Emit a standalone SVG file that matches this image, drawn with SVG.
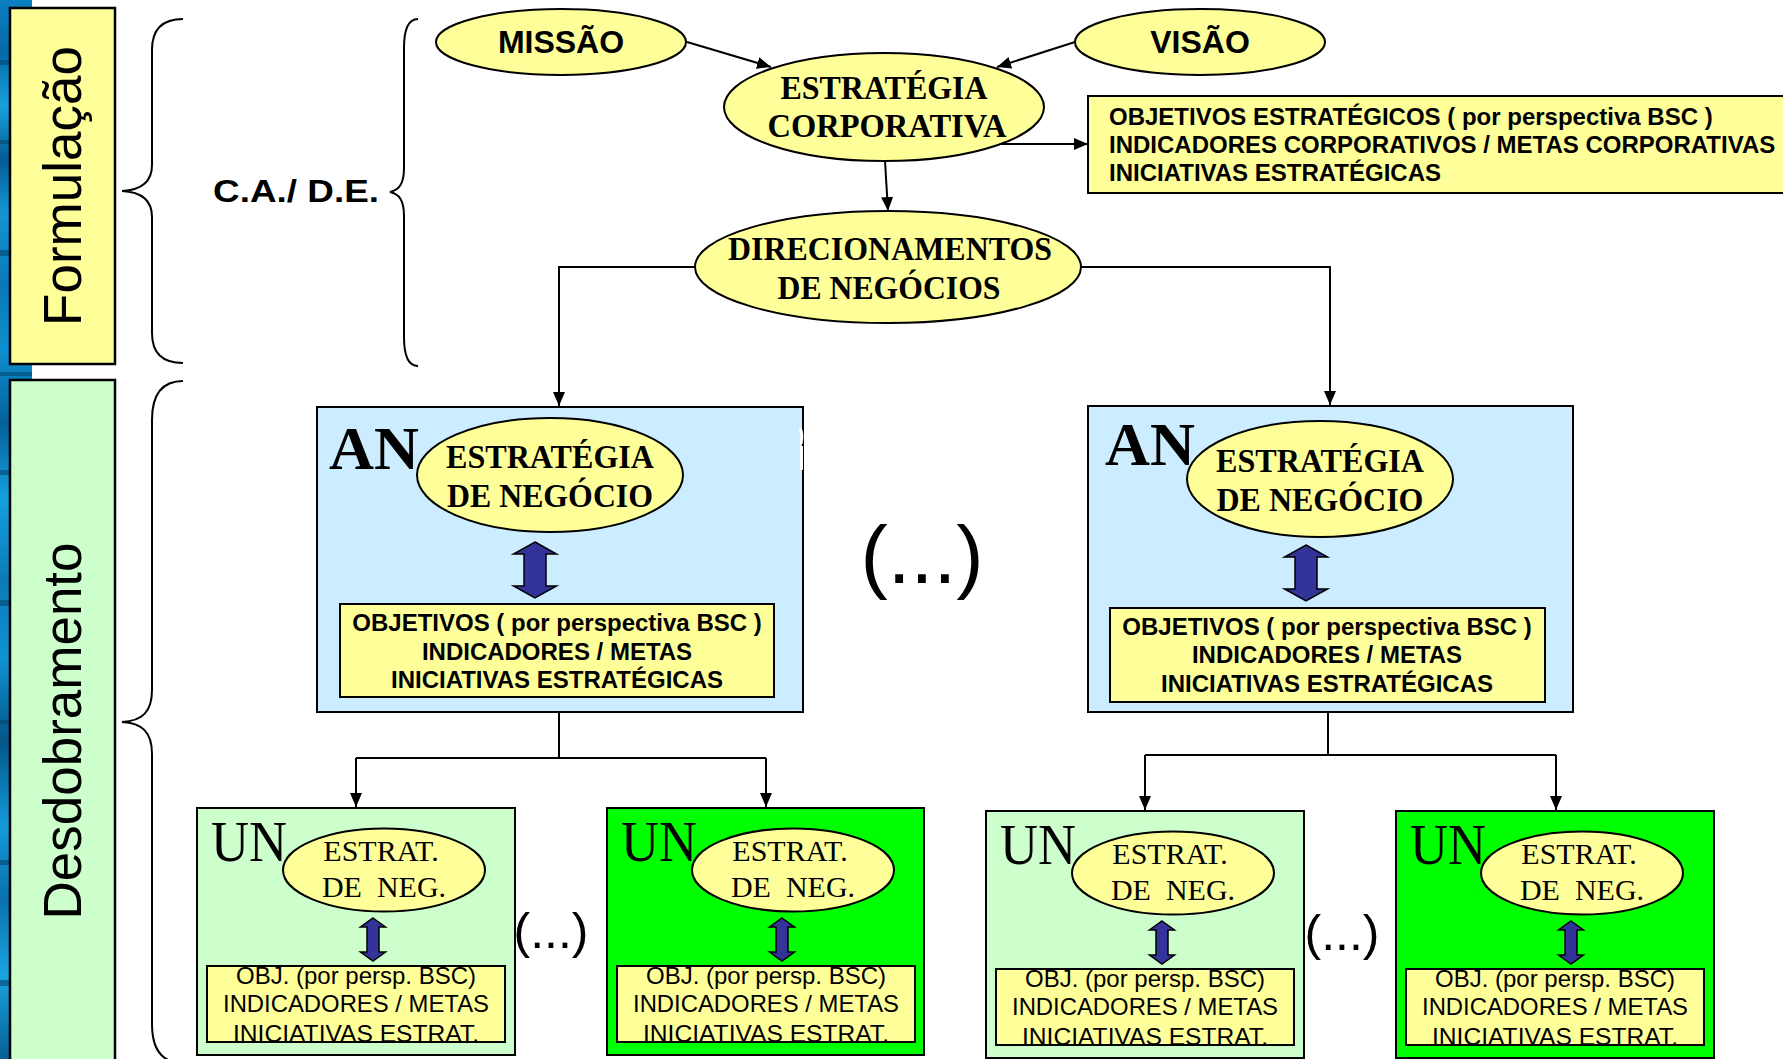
<svg xmlns="http://www.w3.org/2000/svg" width="1783" height="1059" viewBox="0 0 1783 1059">
  <defs>
    <linearGradient id="strip" x1="0" y1="0" x2="0" y2="1">
      <stop offset="0" stop-color="#0b7fc0"/>
      <stop offset="0.05" stop-color="#066aa6"/>
      <stop offset="0.1" stop-color="#18a2dc"/>
      <stop offset="0.15" stop-color="#045b92"/>
      <stop offset="0.2" stop-color="#1495d2"/>
      <stop offset="0.27" stop-color="#0a78b6"/>
      <stop offset="0.33" stop-color="#0d8fcf"/>
      <stop offset="0.4" stop-color="#05619a"/>
      <stop offset="0.47" stop-color="#14a0dc"/>
      <stop offset="0.55" stop-color="#0b7ab8"/>
      <stop offset="0.62" stop-color="#0f93d3"/>
      <stop offset="0.7" stop-color="#045688"/>
      <stop offset="0.78" stop-color="#139bd8"/>
      <stop offset="0.85" stop-color="#0a70ad"/>
      <stop offset="0.92" stop-color="#1aa5df"/>
      <stop offset="1" stop-color="#075f95"/>
    </linearGradient>
    <marker id="arr" markerUnits="userSpaceOnUse" markerWidth="14" markerHeight="12" refX="14" refY="6" orient="auto">
      <path d="M0,0 L14,6 L0,12 z" fill="#000"/>
    </marker>
    <!-- two-headed block arrows -->
    <path id="dbl" d="M0,0 L21.5,12 L11,12 L11,44 L21.5,44 L0,56 L-21.5,44 L-11,44 L-11,12 L-21.5,12 Z"/>
    <path id="dbl-s" d="M0,0 L12.5,9 L6,9 L6,34 L12.5,34 L0,43 L-12.5,34 L-6,34 L-6,9 L-12.5,9 Z"/>
  </defs>
  <style>
    .sans { font-family: "Liberation Sans", Arial, sans-serif; }
    .serif { font-family: "Liberation Serif", "Times New Roman", serif; }
    .b { font-weight: bold; }
    .mid { text-anchor: middle; }
    .yel { fill: #FFFF99; stroke: #000; stroke-width: 2; }
    .an { fill: #CCECFF; stroke: #000; stroke-width: 2; }
    .unl { fill: #CCFFCC; stroke: #000; stroke-width: 2; }
    .und { fill: #00FF00; stroke: #000; stroke-width: 2; }
    .dbl { fill: #333399; stroke: #000; stroke-width: 1.5; }
    .conn { fill: none; stroke: #000; stroke-width: 2; }
    .brace { fill: none; stroke: #000; stroke-width: 2; }
    .big { font-size: 34px; }
    .obj { font-size: 24px; }
    .small { font-size: 24px; }
  </style>

  <rect x="0" y="0" width="1783" height="1059" fill="#fff"/>

  <!-- textured side strip -->
  <rect x="0" y="0" width="32" height="1059" fill="url(#strip)"/>
  <g fill="#03466f" opacity="0.6">
    <rect x="0" y="60" width="32" height="5"/>
    <rect x="0" y="140" width="32" height="4"/>
    <rect x="0" y="250" width="32" height="6"/>
    <rect x="0" y="372" width="32" height="4"/>
    <rect x="0" y="470" width="32" height="5"/>
    <rect x="0" y="600" width="32" height="6"/>
    <rect x="0" y="720" width="32" height="4"/>
    <rect x="0" y="860" width="32" height="5"/>
    <rect x="0" y="980" width="32" height="6"/>
  </g>

  <!-- phase labels -->
  <g id="formulacao">
    <rect x="10" y="8" width="105" height="356" fill="#FFFF99" stroke="#000" stroke-width="2.5"/>
    <text class="sans" font-size="53" text-anchor="middle" transform="translate(81,186) rotate(-90)">Formulação</text>
  </g>
  <g id="desdobramento">
    <rect x="10" y="380" width="105" height="700" fill="#CCFFCC" stroke="#000" stroke-width="2.5"/>
    <text class="sans" font-size="53" text-anchor="middle" transform="translate(81,731) rotate(-90)">Desdobramento</text>
  </g>

  <!-- braces -->
  <g id="braces">
    <path class="brace" d="M183,19 C164,19 152,28 152,50 L152,165 C152,182 142,190 122,191 C142,192 152,200 152,217 L152,333 C152,354 164,363 183,363"/>
    <path class="brace" d="M418,19 C409,19 404,27 404,48 L404,168 C404,184 399,190 390,192 C399,194 404,200 404,216 L404,337 C404,358 409,366 418,366"/>
    <path class="brace" d="M183,381 C164,381 152,392 152,420 L152,690 C152,712 142,721 122,722 C142,723 152,732 152,754 L152,1024 C152,1052 164,1063 183,1063"/>
  </g>

  <g id="ca-de">
    <text class="sans b" x="213" y="202" font-size="32" textLength="166" lengthAdjust="spacingAndGlyphs">C.A./ D.E.</text>
  </g>

  <!-- corporate level -->
  <g id="missao">
    <ellipse class="yel" cx="561" cy="42" rx="125" ry="33"/>
    <text class="sans b mid" x="561" y="53" font-size="32">MISSÃO</text>
  </g>
  <g id="visao">
    <ellipse class="yel" cx="1200" cy="42" rx="125" ry="33"/>
    <text class="sans b mid" x="1200" y="53" font-size="32">VISÃO</text>
  </g>
  <g id="estrategia-corporativa">
    <ellipse class="yel" cx="884" cy="107" rx="160" ry="54"/>
    <text class="serif b mid big" x="884" y="99" textLength="207" lengthAdjust="spacingAndGlyphs">ESTRATÉGIA</text>
    <text class="serif b mid big" x="887" y="137" textLength="239" lengthAdjust="spacingAndGlyphs">CORPORATIVA</text>
  </g>
  <g id="objetivos-corporativos">
    <rect class="yel" x="1088" y="96" width="720" height="97"/>
    <text class="sans b obj" x="1109" y="125">OBJETIVOS ESTRATÉGICOS ( por perspectiva BSC )</text>
    <text class="sans b obj" x="1109" y="153">INDICADORES CORPORATIVOS / METAS CORPORATIVAS</text>
    <text class="sans b obj" x="1109" y="181">INICIATIVAS ESTRATÉGICAS</text>
  </g>
  <g id="direcionamentos">
    <ellipse class="yel" cx="888" cy="267" rx="193" ry="56"/>
    <text class="serif b mid big" x="890" y="260" textLength="324" lengthAdjust="spacingAndGlyphs">DIRECIONAMENTOS</text>
    <text class="serif b mid big" x="889" y="299" textLength="223" lengthAdjust="spacingAndGlyphs">DE NEGÓCIOS</text>
  </g>

  <!-- business areas -->
  <g id="an-1">
    <rect class="an" x="317" y="407" width="486" height="305"/>
    <text class="serif b" x="329" y="469" font-size="62" textLength="90" lengthAdjust="spacingAndGlyphs">AN</text>
    <ellipse class="yel" cx="550" cy="475" rx="133" ry="57"/>
    <text class="serif b mid big" x="550" y="468" textLength="208" lengthAdjust="spacingAndGlyphs">ESTRATÉGIA</text>
    <text class="serif b mid big" x="550" y="507" textLength="206" lengthAdjust="spacingAndGlyphs">DE NEGÓCIO</text>
    <use href="#dbl" class="dbl" x="535" y="542"/>
    <rect class="yel" x="340" y="604" width="434" height="93"/>
    <text class="sans b mid obj" x="557" y="631">OBJETIVOS ( por perspectiva BSC )</text>
    <text class="sans b mid obj" x="557" y="660">INDICADORES / METAS</text>
    <text class="sans b mid obj" x="557" y="688">INICIATIVAS ESTRATÉGICAS</text>
    <path d="M800,428 Q803,434 801,444 M801.5,446 V470" fill="none" stroke="#fff" stroke-width="3"/>
  </g>
  <g id="an-2">
    <rect class="an" x="1088" y="406" width="485" height="306"/>
    <text class="serif b" x="1105" y="465" font-size="62" textLength="90" lengthAdjust="spacingAndGlyphs">AN</text>
    <ellipse class="yel" cx="1320" cy="479" rx="133" ry="58"/>
    <text class="serif b mid big" x="1320" y="472" textLength="208" lengthAdjust="spacingAndGlyphs">ESTRATÉGIA</text>
    <text class="serif b mid big" x="1320" y="511" textLength="207" lengthAdjust="spacingAndGlyphs">DE NEGÓCIO</text>
    <use href="#dbl" class="dbl" x="1306" y="545"/>
    <rect class="yel" x="1110" y="608" width="435" height="94"/>
    <text class="sans b mid obj" x="1327" y="635">OBJETIVOS ( por perspectiva BSC )</text>
    <text class="sans b mid obj" x="1327" y="663">INDICADORES / METAS</text>
    <text class="sans b mid obj" x="1327" y="692">INICIATIVAS ESTRATÉGICAS</text>
  </g>

  <!-- business units -->
  <g id="un-1" transform="translate(197,808)">
    <rect class="unl" x="0" y="0" width="318" height="247"/>
    <text class="serif" x="14" y="53" font-size="56" textLength="76" lengthAdjust="spacingAndGlyphs">UN</text>
    <ellipse class="yel" cx="187" cy="62" rx="101" ry="41.5"/>
    <text class="serif mid" x="184" y="53" font-size="30">ESTRAT.</text>
    <text class="serif mid" x="187" y="89" font-size="30">DE&#160; NEG.</text>
    <use href="#dbl-s" class="dbl" x="176" y="110"/>
    <rect class="yel" x="10" y="158" width="298" height="76"/>
    <text class="sans mid small" x="159" y="176" textLength="240" lengthAdjust="spacingAndGlyphs">OBJ. (por persp. BSC)</text>
    <text class="sans mid small" x="159" y="204" textLength="266" lengthAdjust="spacingAndGlyphs">INDICADORES / METAS</text>
    <text class="sans mid small" x="159" y="234" textLength="246" lengthAdjust="spacingAndGlyphs">INICIATIVAS ESTRAT.</text>
    <rect x="10" y="158" width="298" height="76" fill="none" stroke="#000" stroke-width="2"/>
  </g>
  <g id="un-2" transform="translate(607,808)">
    <rect class="und" x="0" y="0" width="317" height="247"/>
    <text class="serif" x="14" y="53" font-size="56" textLength="76" lengthAdjust="spacingAndGlyphs">UN</text>
    <ellipse class="yel" cx="186" cy="62" rx="101" ry="41.5"/>
    <text class="serif mid" x="183" y="53" font-size="30">ESTRAT.</text>
    <text class="serif mid" x="186" y="89" font-size="30">DE&#160; NEG.</text>
    <use href="#dbl-s" class="dbl" x="175" y="110"/>
    <rect class="yel" x="10" y="158" width="298" height="76"/>
    <text class="sans mid small" x="159" y="176" textLength="240" lengthAdjust="spacingAndGlyphs">OBJ. (por persp. BSC)</text>
    <text class="sans mid small" x="159" y="204" textLength="266" lengthAdjust="spacingAndGlyphs">INDICADORES / METAS</text>
    <text class="sans mid small" x="159" y="234" textLength="246" lengthAdjust="spacingAndGlyphs">INICIATIVAS ESTRAT.</text>
    <rect x="10" y="158" width="298" height="76" fill="none" stroke="#000" stroke-width="2"/>
  </g>
  <g id="un-3" transform="translate(986,811)">
    <rect class="unl" x="0" y="0" width="318" height="247"/>
    <text class="serif" x="14" y="53" font-size="56" textLength="76" lengthAdjust="spacingAndGlyphs">UN</text>
    <ellipse class="yel" cx="187" cy="62" rx="101" ry="41.5"/>
    <text class="serif mid" x="184" y="53" font-size="30">ESTRAT.</text>
    <text class="serif mid" x="187" y="89" font-size="30">DE&#160; NEG.</text>
    <use href="#dbl-s" class="dbl" x="176" y="110"/>
    <rect class="yel" x="10" y="158" width="298" height="76"/>
    <text class="sans mid small" x="159" y="176" textLength="240" lengthAdjust="spacingAndGlyphs">OBJ. (por persp. BSC)</text>
    <text class="sans mid small" x="159" y="204" textLength="266" lengthAdjust="spacingAndGlyphs">INDICADORES / METAS</text>
    <text class="sans mid small" x="159" y="234" textLength="246" lengthAdjust="spacingAndGlyphs">INICIATIVAS ESTRAT.</text>
    <rect x="10" y="158" width="298" height="76" fill="none" stroke="#000" stroke-width="2"/>
  </g>
  <g id="un-4" transform="translate(1396,811)">
    <rect class="und" x="0" y="0" width="318" height="247"/>
    <text class="serif" x="14" y="53" font-size="56" textLength="76" lengthAdjust="spacingAndGlyphs">UN</text>
    <ellipse class="yel" cx="186" cy="62" rx="101" ry="41.5"/>
    <text class="serif mid" x="183" y="53" font-size="30">ESTRAT.</text>
    <text class="serif mid" x="186" y="89" font-size="30">DE&#160; NEG.</text>
    <use href="#dbl-s" class="dbl" x="175" y="110"/>
    <rect class="yel" x="10" y="158" width="298" height="76"/>
    <text class="sans mid small" x="159" y="176" textLength="240" lengthAdjust="spacingAndGlyphs">OBJ. (por persp. BSC)</text>
    <text class="sans mid small" x="159" y="204" textLength="266" lengthAdjust="spacingAndGlyphs">INDICADORES / METAS</text>
    <text class="sans mid small" x="159" y="234" textLength="246" lengthAdjust="spacingAndGlyphs">INICIATIVAS ESTRAT.</text>
    <rect x="10" y="158" width="298" height="76" fill="none" stroke="#000" stroke-width="2"/>
  </g>

  <!-- continuation marks -->
  <g id="continuation" class="sans">
    <text class="mid" x="922" y="583" font-size="82">(...)</text>
    <text class="mid" x="551" y="948" font-size="50">(...)</text>
    <text class="mid" x="1342" y="950" font-size="50">(...)</text>
  </g>

  <!-- connectors -->
  <g id="connectors">
    <line class="conn" x1="687" y1="42" x2="771" y2="67" marker-end="url(#arr)"/>
    <line class="conn" x1="1075" y1="42" x2="997" y2="67" marker-end="url(#arr)"/>
    <line class="conn" x1="1001" y1="144" x2="1088" y2="144" marker-end="url(#arr)"/>
    <line class="conn" x1="885" y1="161" x2="888" y2="211" marker-end="url(#arr)"/>
    <polyline class="conn" points="696,267 559,267 559,406" marker-end="url(#arr)"/>
    <polyline class="conn" points="1081,267 1330,267 1330,405" marker-end="url(#arr)"/>
    <line class="conn" x1="559" y1="712" x2="559" y2="758"/>
    <line class="conn" x1="356" y1="758" x2="766" y2="758"/>
    <line class="conn" x1="356" y1="758" x2="356" y2="807" marker-end="url(#arr)"/>
    <line class="conn" x1="766" y1="758" x2="766" y2="807" marker-end="url(#arr)"/>
    <line class="conn" x1="1328" y1="712" x2="1328" y2="755"/>
    <line class="conn" x1="1145" y1="755" x2="1556" y2="755"/>
    <line class="conn" x1="1145" y1="755" x2="1145" y2="810" marker-end="url(#arr)"/>
    <line class="conn" x1="1556" y1="755" x2="1556" y2="810" marker-end="url(#arr)"/>
  </g>
</svg>
